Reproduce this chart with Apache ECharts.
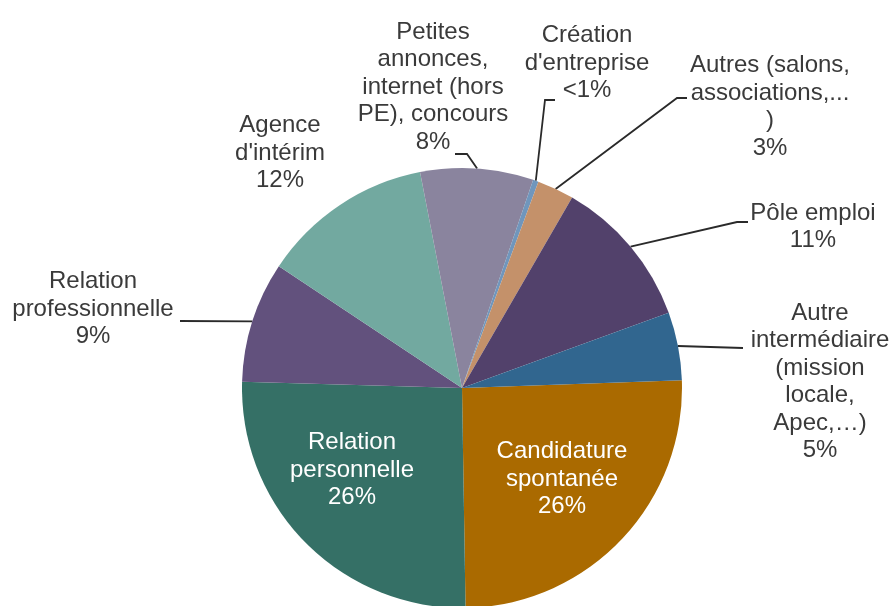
<!DOCTYPE html>
<html>
<head>
<meta charset="utf-8">
<style>
    html, body {margin: 0; padding: 0; background: #fff;}
    #main {width: 890px; height: 606px;}
</style>
<script src="https://cdn.jsdelivr.net/npm/echarts@6/dist/echarts.min.js"></script>
</head>
<body>
<div id="main"></div>
<script>
    // données (sens horaire depuis 3 h)
    var categories = [
        'Candidature\nspontanée',
        'Relation\npersonnelle',
        'Relation\nprofessionnelle',
        'Agence\nd\'intérim',
        'Petites\nannonces,\ninternet (hors\nPE), concours',
        'Création\nd\'entreprise',
        'Autres (salons,\nassociations,...\n)',
        'Pôle emploi',
        'Autre\nintermédiaire\n(mission\nlocale,\nApec,…)'
    ];
    var values = [25.3, 25.7, 8.9, 12.6, 8.3, 0.4, 2.7, 11.1, 5.0];
    var pctLabels = ['26%', '26%', '9%', '12%', '8%', '<1%', '3%', '11%', '5%'];
    var colors = ['#aa6a00', '#357066', '#62517d', '#72a9a0', '#8a849e', '#7096bc', '#c4916a', '#52416b', '#31668f'];

    // placement des étiquettes (centre du bloc) et des traits de rappel
    var labelPos = [[562, 479], [352, 470], [93, 309], [280, 153], [433, 87], [587, 63], [770, 107], [813, 227], [820, 382]];
    var lineTail = [null, null, [[180, 321]], null, [[467, 154], [455, 154]], [[545, 100], [555, 100]],
        [[677, 98], [687, 98]], [[737, 222], [748, 222]], [[743, 348]]];
    var inside = [true, true, false, false, false, false, false, false, false];

    var myChart = echarts.init(document.getElementById('main'));

    var seriesData = categories.map(function (name, i) {
        var item = {
            name: name,
            value: values[i],
            itemStyle: {color: colors[i]}
        };
        if (inside[i]) {
            item.label = {position: 'inside', color: '#fff'};
        }
        if (!lineTail[i]) {
            item.labelLine = {show: false};
        }
        return item;
    });

    var opt = {
        animation: false,
        series: [{
            type: 'pie',
            center: [462, 388],
            radius: 220,
            startAngle: 2,
            clockwise: true,
            avoidLabelOverlap: false,
            itemStyle: {borderWidth: 0},
            label: {
                show: true,
                position: 'outside',
                fontFamily: '"Liberation Sans", Arial, sans-serif',
                fontSize: 24,
                lineHeight: 27.5,
                color: '#3a3a3a',
                align: 'center',
                formatter: function (p) {
                    return p.name + '\n' + pctLabels[p.dataIndex];
                }
            },
            labelLine: {
                show: true,
                lineStyle: {color: '#2a2a2a', width: 1.8}
            },
            labelLayout: function (params) {
                var i = params.dataIndex;
                var res = {
                    x: labelPos[i][0],
                    y: labelPos[i][1],
                    align: 'center',
                    verticalAlign: 'middle'
                };
                if (lineTail[i] && params.labelLinePoints) {
                    res.labelLinePoints = [params.labelLinePoints[0]].concat(lineTail[i]);
                }
                return res;
            },
            data: seriesData
        }]
    };
    myChart.setOption(opt);
</script>
</body>
</html>
